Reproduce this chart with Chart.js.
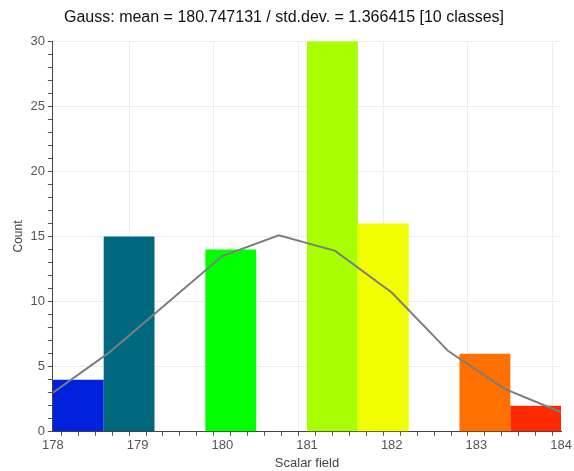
<!DOCTYPE html>
<html>
<head>
<meta charset="UTF-8">
<title>Gauss histogram</title>
<script src="https://cdn.jsdelivr.net/npm/chart.js@4.4.0/dist/chart.umd.min.js"></script>
<style>
body{margin:0;background:#fff;}
#wrap{width:574px;height:471px;position:relative;}
</style>
</head>
<body>
<div id="wrap"><canvas id="myChart"></canvas></div>
<script>
// histogram classes (width 0.6)
var classCenters = [178.3, 178.9, 179.5, 180.1, 180.7, 181.3, 181.9, 182.5, 183.1, 183.7];
var classCounts = [4, 15, 0, 14, 0, 30, 16, 0, 6, 2];
var classColors = ["#0022dd", "#00687f", "#ffffff", "#00ff00", "#ffffff", "#a8ff00", "#f2ff00", "#ffffff", "#ff7000", "#ff2a00"];

// gauss curve
var gaussX = [178, 178.667, 179.333, 180, 180.667, 181.333, 182, 182.667, 183.333, 184];
var gaussY = [3.0, 6.1, 9.8, 13.5, 15.1, 13.9, 10.7, 6.2, 3.3, 1.5];

var titleText = "Gauss: mean = 180.747131 / std.dev. = 1.366415 [10 classes]";

var barData = [];
for (var i = 0; i < classCenters.length; i++) {
	barData.push({x: classCenters[i], y: classCounts[i]});
}
var lineData = [];
for (var j = 0; j < gaussX.length; j++) {
	lineData.push({x: gaussX[j], y: gaussY[j]});
}

var isInt = function(v){
	return Math.abs(v - Math.round(v)) < 1e-6;
};

var ctx = document.getElementById("myChart");
var myChart = new Chart(ctx, {
	type: "bar",
	data: {
		datasets: [{
			type: "line",
			data: lineData,
			borderColor: "#7d7d7d",
			borderWidth: 2,
			pointRadius: 0,
			tension: 0,
			order: 0
		}, {
			type: "bar",
			data: barData,
			backgroundColor: classColors,
			borderWidth: 0,
			// ticks every 0.2 set the bar ruler, classes are 0.6 wide
			barPercentage: 3,
			categoryPercentage: 1,
			order: 1
		}]
	},
	options: {
		responsive: true,
		maintainAspectRatio: false,
		animation: false,
		layout: {padding: {left: 4, right: 10, top: 0, bottom: 0}},
		plugins: {
			legend: {display: false},
			tooltip: {enabled: false},
			title: {
				display: true,
				text: titleText,
				color: "#111",
				font: {family: "Liberation Sans", size: 16, weight: "normal"},
				padding: {top: 8, bottom: 14}
			}
		},
		scales: {
			x: {
				type: "linear",
				min: 178,
				max: 184,
				offset: false,
				border: {color: "#444", width: 1},
				grid: {
					color: function(c){ return (c.tick && isInt(c.tick.value)) ? "#ededed" : "rgba(0,0,0,0)"; },
					tickColor: "#555",
					tickLength: 4
				},
				ticks: {
					stepSize: 0.2,
					autoSkip: false,
					maxRotation: 0,
					color: "#555",
					font: {family: "Liberation Sans", size: 13},
					padding: 2,
					callback: function(v){ return isInt(v) ? Math.round(v) : ""; }
				},
				title: {
					display: true,
					text: "Scalar field",
					color: "#444",
					font: {family: "Liberation Sans", size: 13},
					padding: {top: 0, bottom: 0}
				}
			},
			y: {
				min: 0,
				max: 30,
				border: {color: "#444", width: 1},
				grid: {
					color: function(c){ return (c.tick && c.tick.value % 5 === 0) ? "#ededed" : "rgba(0,0,0,0)"; },
					tickColor: "#555",
					tickLength: 5
				},
				ticks: {
					stepSize: 1,
					autoSkip: false,
					color: "#555",
					font: {family: "Liberation Sans", size: 13},
					padding: 3,
					callback: function(v){ return v % 5 === 0 ? v : ""; }
				},
				title: {
					display: true,
					text: "Count",
					color: "#444",
					font: {family: "Liberation Sans", size: 12},
					padding: {top: 7, bottom: 2}
				}
			}
		}
	}
});
</script>
</body>
</html>
